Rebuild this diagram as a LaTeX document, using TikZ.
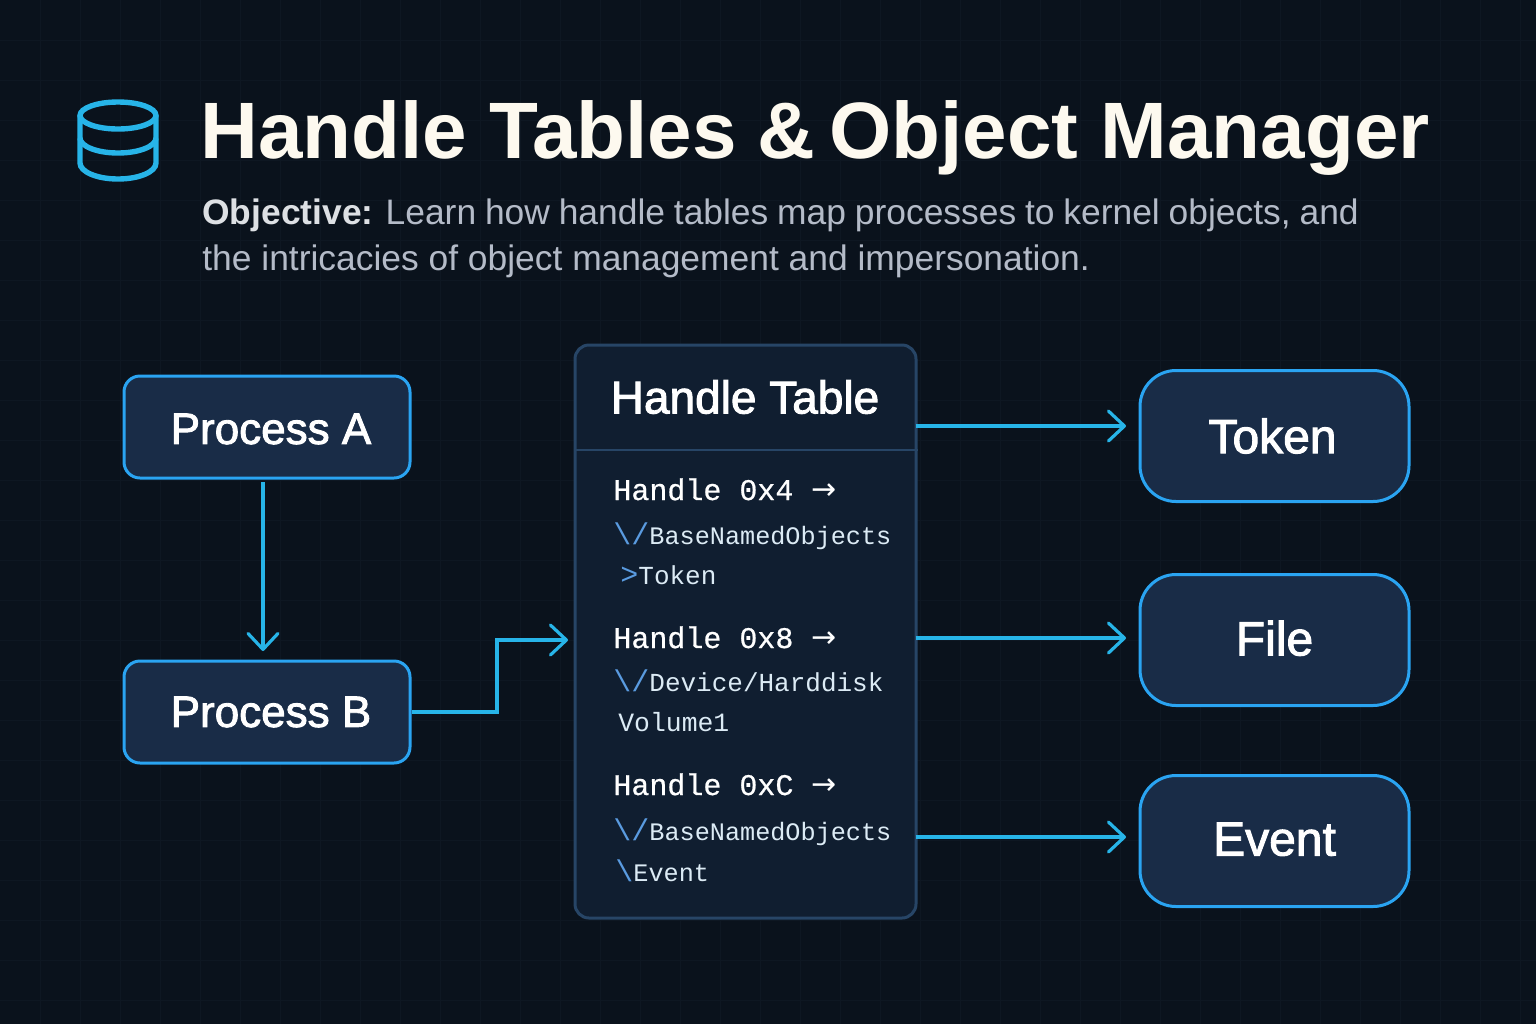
\documentclass[tikz,border=0pt]{standalone}
\usepackage{fontspec}
\usepackage{xcolor}
\usetikzlibrary{arrows.meta}
\setmainfont{Liberation Sans}
\setmonofont{Liberation Mono}
\newfontfamily\medfont[FakeBold=2]{Liberation Sans}
\newfontfamily\monomed[FakeBold=0.7]{Liberation Mono}
\newfontfamily\arrowfont{DejaVu Sans}
\definecolor{pagebg}{HTML}{0A121C}
\definecolor{gridc}{HTML}{0E1722}
\definecolor{boxfill}{HTML}{192C47}
\definecolor{tablefill}{HTML}{101E30}
\definecolor{tableline}{HTML}{274566}
\definecolor{boxline}{HTML}{2AA4F2}
\definecolor{linkc}{HTML}{27B4E8}
\definecolor{slashc}{HTML}{5A9BE0}
\definecolor{titlec}{HTML}{FDF9EF}
\definecolor{subc}{HTML}{B4BBC8}
\definecolor{objc}{HTML}{DDE0E4}
\definecolor{pathc}{HTML}{DCEBF5}
\newcommand{\pxfont}[1]{\fontsize{#1}{#1}\selectfont}
\newcommand{\slpair}{{\pxfont{15}\color{slashc}\textbackslash/}}
\newcommand{\harrow}{{\arrowfont\raisebox{0.5pt}{→}}}
\tikzset{
  proc/.style={draw=boxline,fill=boxfill,line width=1.5pt,rounded corners=8pt,
    minimum width=143pt,minimum height=51pt,text=white,font=\medfont\pxfont{22}},
  objbox/.style={draw=boxline,fill=boxfill,line width=1.5pt,rounded corners=18pt,
    minimum width=134.5pt,minimum height=65.5pt,text=white,font=\medfont\pxfont{24}},
  link/.style={draw=linkc,line width=1.6pt,-{Straight Barb[length=8pt,width=15pt,line width=1.6pt,round]}},
  hline/.style={anchor=base west,inner sep=0pt,text=white,font=\monomed\pxfont{15}},
  pline/.style={anchor=base west,inner sep=0pt,text=pathc,font=\ttfamily\pxfont{12.6}},
}
\begin{document}
\begin{tikzpicture}[x=0.5pt,y=-0.5pt]
  \useasboundingbox (0,0) rectangle (1536,1024);
  \fill[pagebg] (0,0) rectangle (1536,1024);
  \foreach \gx in {40,80,...,1520} {\draw[gridc,line width=0.4pt] (\gx,0) -- (\gx,1024);}
  \foreach \gy in {40,80,...,1000} {\draw[gridc,line width=0.4pt] (0,\gy) -- (1536,\gy);}
  % icon
  \begin{scope}[draw=linkc,line width=2.7pt]
    \draw (118,115.5) ellipse [x radius=38,y radius=13.5];
    \draw (80,115.5) -- (80,163) arc [start angle=180,end angle=0,x radius=38,y radius=16] -- (156,115.5);
    \draw (80,138) arc [start angle=180,end angle=0,x radius=38,y radius=15];
  \end{scope}
  % heading
  \node[anchor=base west,inner sep=0pt,text=titlec,font=\bfseries\pxfont{40}] (title) at (200,158) {Handle Tables\hspace{-0.8pt} \&\hspace{-4pt} Object Manager};
  \node[anchor=base west,inner sep=0pt,text=subc,font=\pxfont{17.7}] (sub1) at (202,224) {\spaceskip=.25em {\bfseries\color{objc}Objective:} Learn how handle tables map processes to kernel objects, and};
  \node[anchor=base west,inner sep=0pt,text=subc,font=\pxfont{17.7}] (sub2) at (202,270) {the intricacies of object management and impersonation.};
  % processes
  \node[proc] (procA) at (267,427) {\raisebox{-1pt}[\height][\depth]{\hspace*{4pt}Process A}};
  \node[proc] (procB) at (267,712) {\hspace*{4pt}Process B};
  % table
  \node[draw=tableline,fill=tablefill,line width=1.5pt,rounded corners=7pt,minimum width=170.5pt,minimum height=286.5pt] (table) at (745.5,631.5) {};
  \draw[tableline,line width=1.2pt] (table.west |- 0,450) coordinate (divL) -- (table.east |- divL);
  \node[text=white,font=\medfont\pxfont{23}] (tabletitle) at (745,397) {Handle Table};
  \node[hline] (h4) at (613,500) {Handle 0x4 \harrow};
  \node[pline] (h4a) at (613,544.5) {\slpair BaseNamedObjects};
  \node[pline] (h4b) at (620,584) {{\pxfont{15}\color{slashc}>}{\pxfont{13}Token}};
  \node[hline] (h8) at (613,648) {Handle 0x8 \harrow};
  \node[pline] (h8a) at (613,691.5) {\slpair{\pxfont{13}Device/Harddisk}};
  \node[pline] (h8b) at (618,731.5) {\pxfont{13.2}Volume1};
  \node[hline] (hc) at (613,795) {Handle 0xC \harrow};
  \node[pline] (hca) at (613,840.5) {\slpair BaseNamedObjects};
  \node[pline] (hcb) at (615,881.5) {{\pxfont{15}\color{slashc}\textbackslash}Event};
  % objects
  \node[objbox] (token) at (1274.5,436) {\hspace*{-2pt}Token};
  \node[objbox] (file) at (1274.5,640) {\raisebox{2pt}{File}};
  \node[objbox] (event) at (1274.5,841) {\raisebox{2pt}{Event}};
  % links
  \coordinate (tokenin) at (1126,426);
  \coordinate (filein) at (1126,638);
  \coordinate (eventin) at (1126,837);
  \coordinate (tablein) at (568,640);
  \coordinate (bin) at (263,651);
  \coordinate (aout) at (263,482);
  \draw[link] (aout) -- (bin);
  \draw[link] (procB.east) -- (497,712) -- (497,640) -- (tablein);
  \draw[link,shorten <=-1pt] (table.east |- tokenin) -- (tokenin);
  \draw[link,shorten <=-1pt] (table.east |- filein) -- (filein);
  \draw[link,shorten <=-1pt] (table.east |- eventin) -- (eventin);
\end{tikzpicture}
\end{document}
